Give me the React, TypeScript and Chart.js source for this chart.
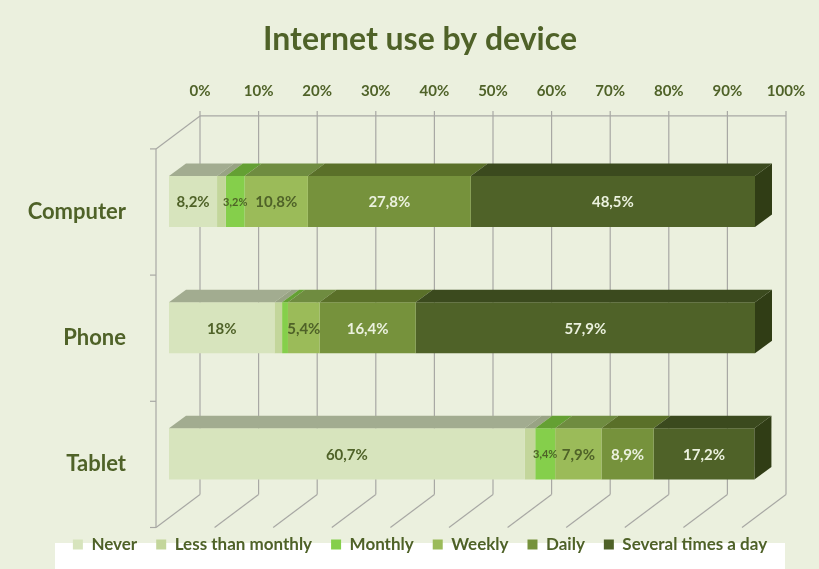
import React, { useEffect, useRef } from "react";
import { Chart, registerables } from "chart.js";

Chart.register(...registerables);

const categories = ["Computer", "Phone", "Tablet"];
const seriesNames = ["Never", "Less than monthly", "Monthly", "Weekly", "Daily", "Several times a day"];
const never = [8.2, 18, 60.7];
const lessThanMonthly = [1.5, 1.3, 1.8];
const monthly = [3.2, 1.0, 3.4];
const weekly = [10.8, 5.4, 7.9];
const daily = [27.8, 16.4, 8.9];
const severalTimes = [48.5, 57.9, 17.2];
const seriesValues = [never, lessThanMonthly, monthly, weekly, daily, severalTimes];
const unlabelled = ["1:0", "1:1", "1:2", "2:1"];
const smallLabels = ["2:0", "2:2"];

const frontColors = ["#D7E4BD", "#C3D69B", "#85CF4B", "#9BBB59", "#76923C", "#4F6228"];
const topColors = ["#A2AC90", "#98A384", "#64A033", "#6F8C40", "#5A7029", "#3B4A1E"];
const labelColors = ["#4F6228", "#4F6228", "#4F6228", "#4F6228", "#EBF1DE", "#EBF1DE"];
const SIDE_COLOR = "#303D15";
const GRID_COLOR = "#A8A8A4";
const BG = "#EBF0DE";
const FONT = "Lato";

const BAR_DEPTH_X = 17;
const BAR_DEPTH_Y = 12.5;
const BACK_DX = 31;
const BACK_DY = -22.5;
const FRONT_DX = -13;
const FRONT_DY = 10.5;

function line(ctx: CanvasRenderingContext2D, x1: number, y1: number, x2: number, y2: number) {
  ctx.beginPath();
  ctx.moveTo(x1, y1);
  ctx.lineTo(x2, y2);
  ctx.stroke();
}

function poly(ctx: CanvasRenderingContext2D, pts: number[][], color: string) {
  ctx.fillStyle = color;
  ctx.beginPath();
  pts.forEach((p, i) => (i ? ctx.lineTo(p[0], p[1]) : ctx.moveTo(p[0], p[1])));
  ctx.closePath();
  ctx.fill();
}

const scene3d = {
  id: "scene3d",
  beforeDraw(chart: any) {
    const { ctx, legend, width, height } = chart;
    ctx.save();
    ctx.fillStyle = BG;
    ctx.fillRect(0, 0, width, height);
    ctx.fillStyle = "#FFFFFF";
    ctx.fillRect(55, 543, 730, height - 543);
    ctx.restore();
  },
  beforeDatasetsDraw(chart: any) {
    const { ctx, chartArea: a, scales } = chart;
    const x = scales.x;
    const backTop = a.top + BACK_DY;
    const backBottom = a.bottom + BACK_DY;
    const frontTop = a.top + FRONT_DY;
    const frontBottom = a.bottom + FRONT_DY;
    const frontLeft = x.getPixelForValue(0) + FRONT_DX;
    const backLeft = x.getPixelForValue(0) + BACK_DX;
    const backRight = x.getPixelForValue(100) + BACK_DX;
    ctx.save();
    ctx.strokeStyle = GRID_COLOR;
    ctx.lineWidth = 1.2;
    x.ticks.forEach((t: any) => {
      const p = x.getPixelForValue(t.value);
      line(ctx, p + BACK_DX, backTop - 5, p + BACK_DX, backBottom);
      line(ctx, p + BACK_DX, backBottom, p + FRONT_DX, frontBottom);
    });
    line(ctx, backLeft, backTop, backRight, backTop);
    line(ctx, backLeft, backTop, frontLeft, frontTop);
    line(ctx, frontLeft, frontTop, frontLeft, frontBottom);
    const step = (frontBottom - frontTop) / categories.length;
    for (let i = 0; i <= categories.length; i++) {
      line(ctx, frontLeft - 6, frontTop + i * step, frontLeft, frontTop + i * step);
    }
    ctx.restore();
  },
  afterDatasetsDraw(chart: any) {
    const { ctx } = chart;
    ctx.save();
    categories.forEach((_, c) => {
      seriesValues.forEach((_s, d) => {
        const el = chart.getDatasetMeta(d).data[c] as any;
        const half = el.height / 2;
        const top = el.y - half;
        const l = el.base;
        const r = el.x;
        poly(ctx, [[l, top], [r, top], [r + BAR_DEPTH_X, top - BAR_DEPTH_Y], [l + BAR_DEPTH_X, top - BAR_DEPTH_Y]], topColors[d]);
        if (d === seriesValues.length - 1) {
          const b = el.y + half;
          poly(ctx, [[r, top], [r + BAR_DEPTH_X, top - BAR_DEPTH_Y], [r + BAR_DEPTH_X, b - BAR_DEPTH_Y], [r, b]], SIDE_COLOR);
        }
        const key = `${d}:${c}`;
        if (unlabelled.includes(key)) return;
        const small = smallLabels.includes(key);
        ctx.font = `bold ${small ? 11 : 15}px ${FONT}`;
        ctx.fillStyle = labelColors[d];
        ctx.textAlign = "center";
        ctx.textBaseline = "middle";
        ctx.fillText(`${String(seriesValues[d][c]).replace(".", ",")}%`, (l + r) / 2, el.y + 1);
      });
    });
    ctx.restore();
  },
};

export default function App() {
  const ref = useRef<HTMLCanvasElement | null>(null);
  useEffect(() => {
    if (!ref.current) return;
    const chart = new Chart(ref.current, {
      type: "bar",
      data: {
        labels: categories,
        datasets: seriesNames.map((name, i) => ({
          label: name,
          data: seriesValues[i],
          backgroundColor: frontColors[i],
          borderWidth: 0,
          categoryPercentage: 1,
          barPercentage: 0.405,
        })),
      },
      options: {
        indexAxis: "y",
        responsive: false,
        animation: false,
        devicePixelRatio: 1,
        layout: { padding: { left: 21, right: 0, top: 20, bottom: 6 } },
        plugins: {
          tooltip: { enabled: false },
          title: {
            display: true,
            text: "Internet use by device",
            color: "#4F6228",
            font: { family: FONT, size: 32, weight: "bold" },
            padding: { top: 0, bottom: 0 },
          },
          legend: {
            display: true,
            position: "bottom",
            labels: {
              color: "#4F6228",
              font: { family: FONT, size: 17, weight: "bold" },
              boxWidth: 10,
              boxHeight: 10,
              padding: 19,
            },
          },
        },
        scales: {
          x: {
            type: "linear",
            position: "top",
            stacked: true,
            min: 0,
            max: 100,
            grid: { display: false },
            border: { display: false },
            afterFit(s: any) { s.height = 80; },
            ticks: {
              stepSize: 10,
              padding: 30,
              labelOffset: BACK_DX,
              maxRotation: 0,
              color: "#4F6228",
              font: { family: FONT, size: 15, weight: "bold" },
              callback: (v: any) => `${v}%`,
            },
          },
          y: {
            type: "category",
            stacked: true,
            grid: { display: false },
            border: { display: false },
            afterFit(s: any) { s.width = 148; },
            ticks: {
              padding: 35,
              labelOffset: FRONT_DY,
              color: "#4F6228",
              font: { family: FONT, size: 22, weight: "bold" },
            },
          },
          spacer: {
            type: "linear",
            position: "right",
            grid: { display: false },
            border: { display: false },
            ticks: { display: false },
            afterFit(s: any) { s.width = 64; },
          },
        },
      } as any,
      plugins: [scene3d],
    });
    return () => chart.destroy();
  }, []);
  return (
    <div style={{ position: "absolute", left: 0, top: 0, width: 819, height: 569 }}>
      <canvas ref={ref} width={819} height={569} style={{ display: "block" }} />
    </div>
  );
}
